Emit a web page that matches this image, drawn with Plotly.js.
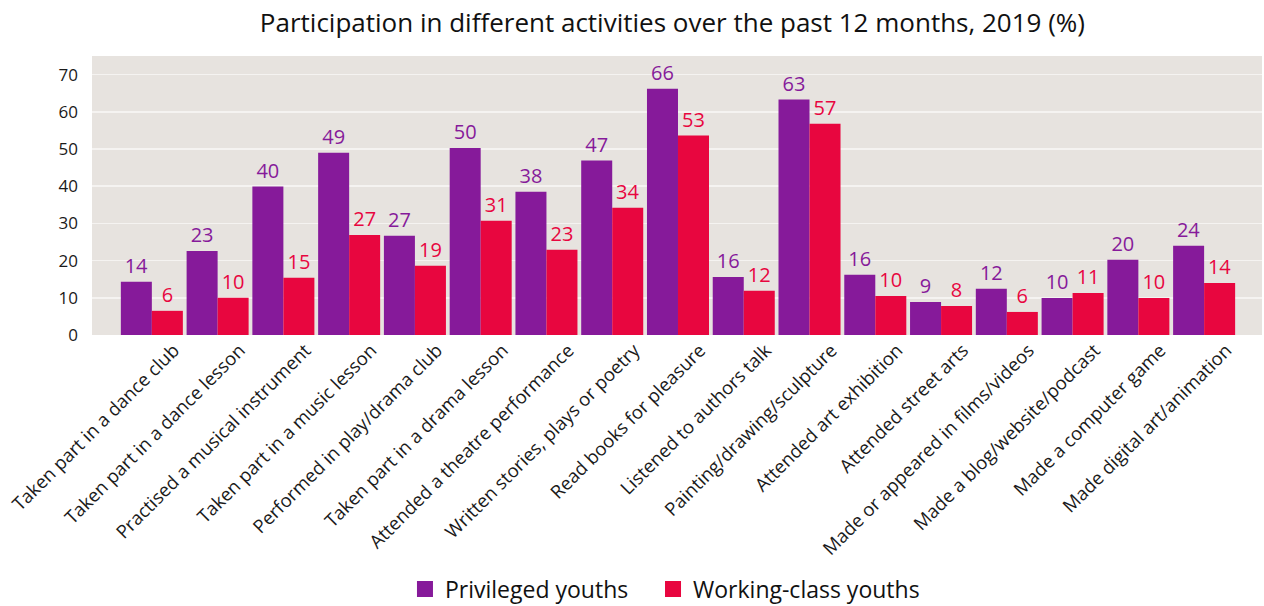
<!DOCTYPE html>
<html>
<head>
<meta charset="utf-8">
<script src="https://cdn.plot.ly/plotly-3.0.1.min.js"></script>
<style>html,body{margin:0;padding:0;background:#fff;}#chart{width:1264px;height:606px;}</style>
</head>
<body>
<div id="chart"></div>
<script>
const categories = [
  "Taken part in a dance club",
  "Taken part in a dance lesson",
  "Practised a musical instrument",
  "Taken part in a music lesson",
  "Performed in play/drama club",
  "Taken part in a drama lesson",
  "Attended a theatre performance",
  "Written stories, plays or poetry",
  "Read books for pleasure",
  "Listened to authors talk",
  "Painting/drawing/sculpture",
  "Attended art exhibition",
  "Attended street arts",
  "Made or appeared in films/videos",
  "Made a blog/website/podcast",
  "Made a computer game",
  "Made digital art/animation"
];
const privileged = [14.3, 22.6, 39.9, 49.0, 26.7, 50.3, 38.5, 46.9, 66.2, 15.6, 63.3, 16.2, 8.9, 12.4, 9.95, 20.2, 24.0];
const privilegedLabels = [14, 23, 40, 49, 27, 50, 38, 47, 66, 16, 63, 16, 9, 12, 10, 20, 24];
const workingClass = [6.5, 10.0, 15.4, 26.9, 18.6, 30.7, 22.9, 34.2, 53.6, 11.9, 56.8, 10.5, 7.8, 6.2, 11.3, 9.95, 14.0];
const workingClassLabels = [6, 10, 15, 27, 19, 31, 23, 34, 53, 12, 57, 10, 8, 6, 11, 10, 14];
const seriesNames = ["Privileged youths", "Working-class youths"];
const yTicks = [0, 10, 20, 30, 40, 50, 60, 70];

const purple = "#861A9A";
const red = "#E8063F";
const fontFam = "'Open Sans', 'Noto Sans', sans-serif";

const traces = [
  {
    type: "bar", name: seriesNames[0], x: categories, y: privileged, showlegend: false,
    text: privilegedLabels.map(String), textposition: "outside", cliponaxis: false,
    textfont: {color: purple, size: 20, family: fontFam},
    marker: {color: purple}
  },
  {
    type: "bar", name: seriesNames[1], x: categories, y: workingClass, showlegend: false,
    text: workingClassLabels.map(String), textposition: "outside", cliponaxis: false,
    textfont: {color: red, size: 20, family: fontFam},
    marker: {color: red}
  },
  {
    type: "scatter", mode: "markers", name: seriesNames[0], x: [null], y: [null],
    marker: {symbol: "square", size: 20, color: purple}, showlegend: true, legend: "legend"
  },
  {
    type: "scatter", mode: "markers", name: seriesNames[1], x: [null], y: [null],
    marker: {symbol: "square", size: 20, color: red}, showlegend: true, legend: "legend2"
  }
];

const legendBase = {
  orientation: "h", xanchor: "left", yref: "container", y: 0.028, yanchor: "middle",
  font: {size: 23, color: "#111", family: fontFam}, itemwidth: 30, bgcolor: "rgba(0,0,0,0)"
};

const layout = {
  width: 1264, height: 606,
  margin: {l: 92, r: 2, t: 56, b: 271, autoexpand: false},
  paper_bgcolor: "#ffffff",
  plot_bgcolor: "#E7E3DF",
  font: {family: fontFam, color: "#1a1a1a"},
  title: {text: "Participation in different activities over the past 12 months, 2019 (%)",
          font: {size: 26, color: "#111", family: fontFam}, x: 0.532, xanchor: "center", y: 0.962, yanchor: "middle"},
  barmode: "group",
  bargap: 0.057,
  bargroupgap: 0,
  xaxis: {
    type: "category", range: [-0.91, 16.88], tickangle: -45,
    tickfont: {size: 18.5, color: "#1a1a1a", family: fontFam},
    ticklabelshift: 22,
    showgrid: false, zeroline: false, showline: false, ticks: "", automargin: false
  },
  yaxis: {
    range: [0, 75], tickvals: yTicks, ticktext: yTicks.map(String),
    tickfont: {size: 17, color: "#1a1a1a", family: fontFam},
    ticklabelstandoff: 13,
    showgrid: true, gridcolor: "#F5F3F1", gridwidth: 1.5,
    zeroline: false, showline: false, ticks: "", ticklen: 0, automargin: false
  },
  showlegend: true,
  legend: Object.assign({}, legendBase, {x: 0.2675}),
  legend2: Object.assign({}, legendBase, {x: 0.4795})
};

Plotly.newPlot("chart", traces, layout, {staticPlot: true, displayModeBar: false});
</script>
</body>
</html>
